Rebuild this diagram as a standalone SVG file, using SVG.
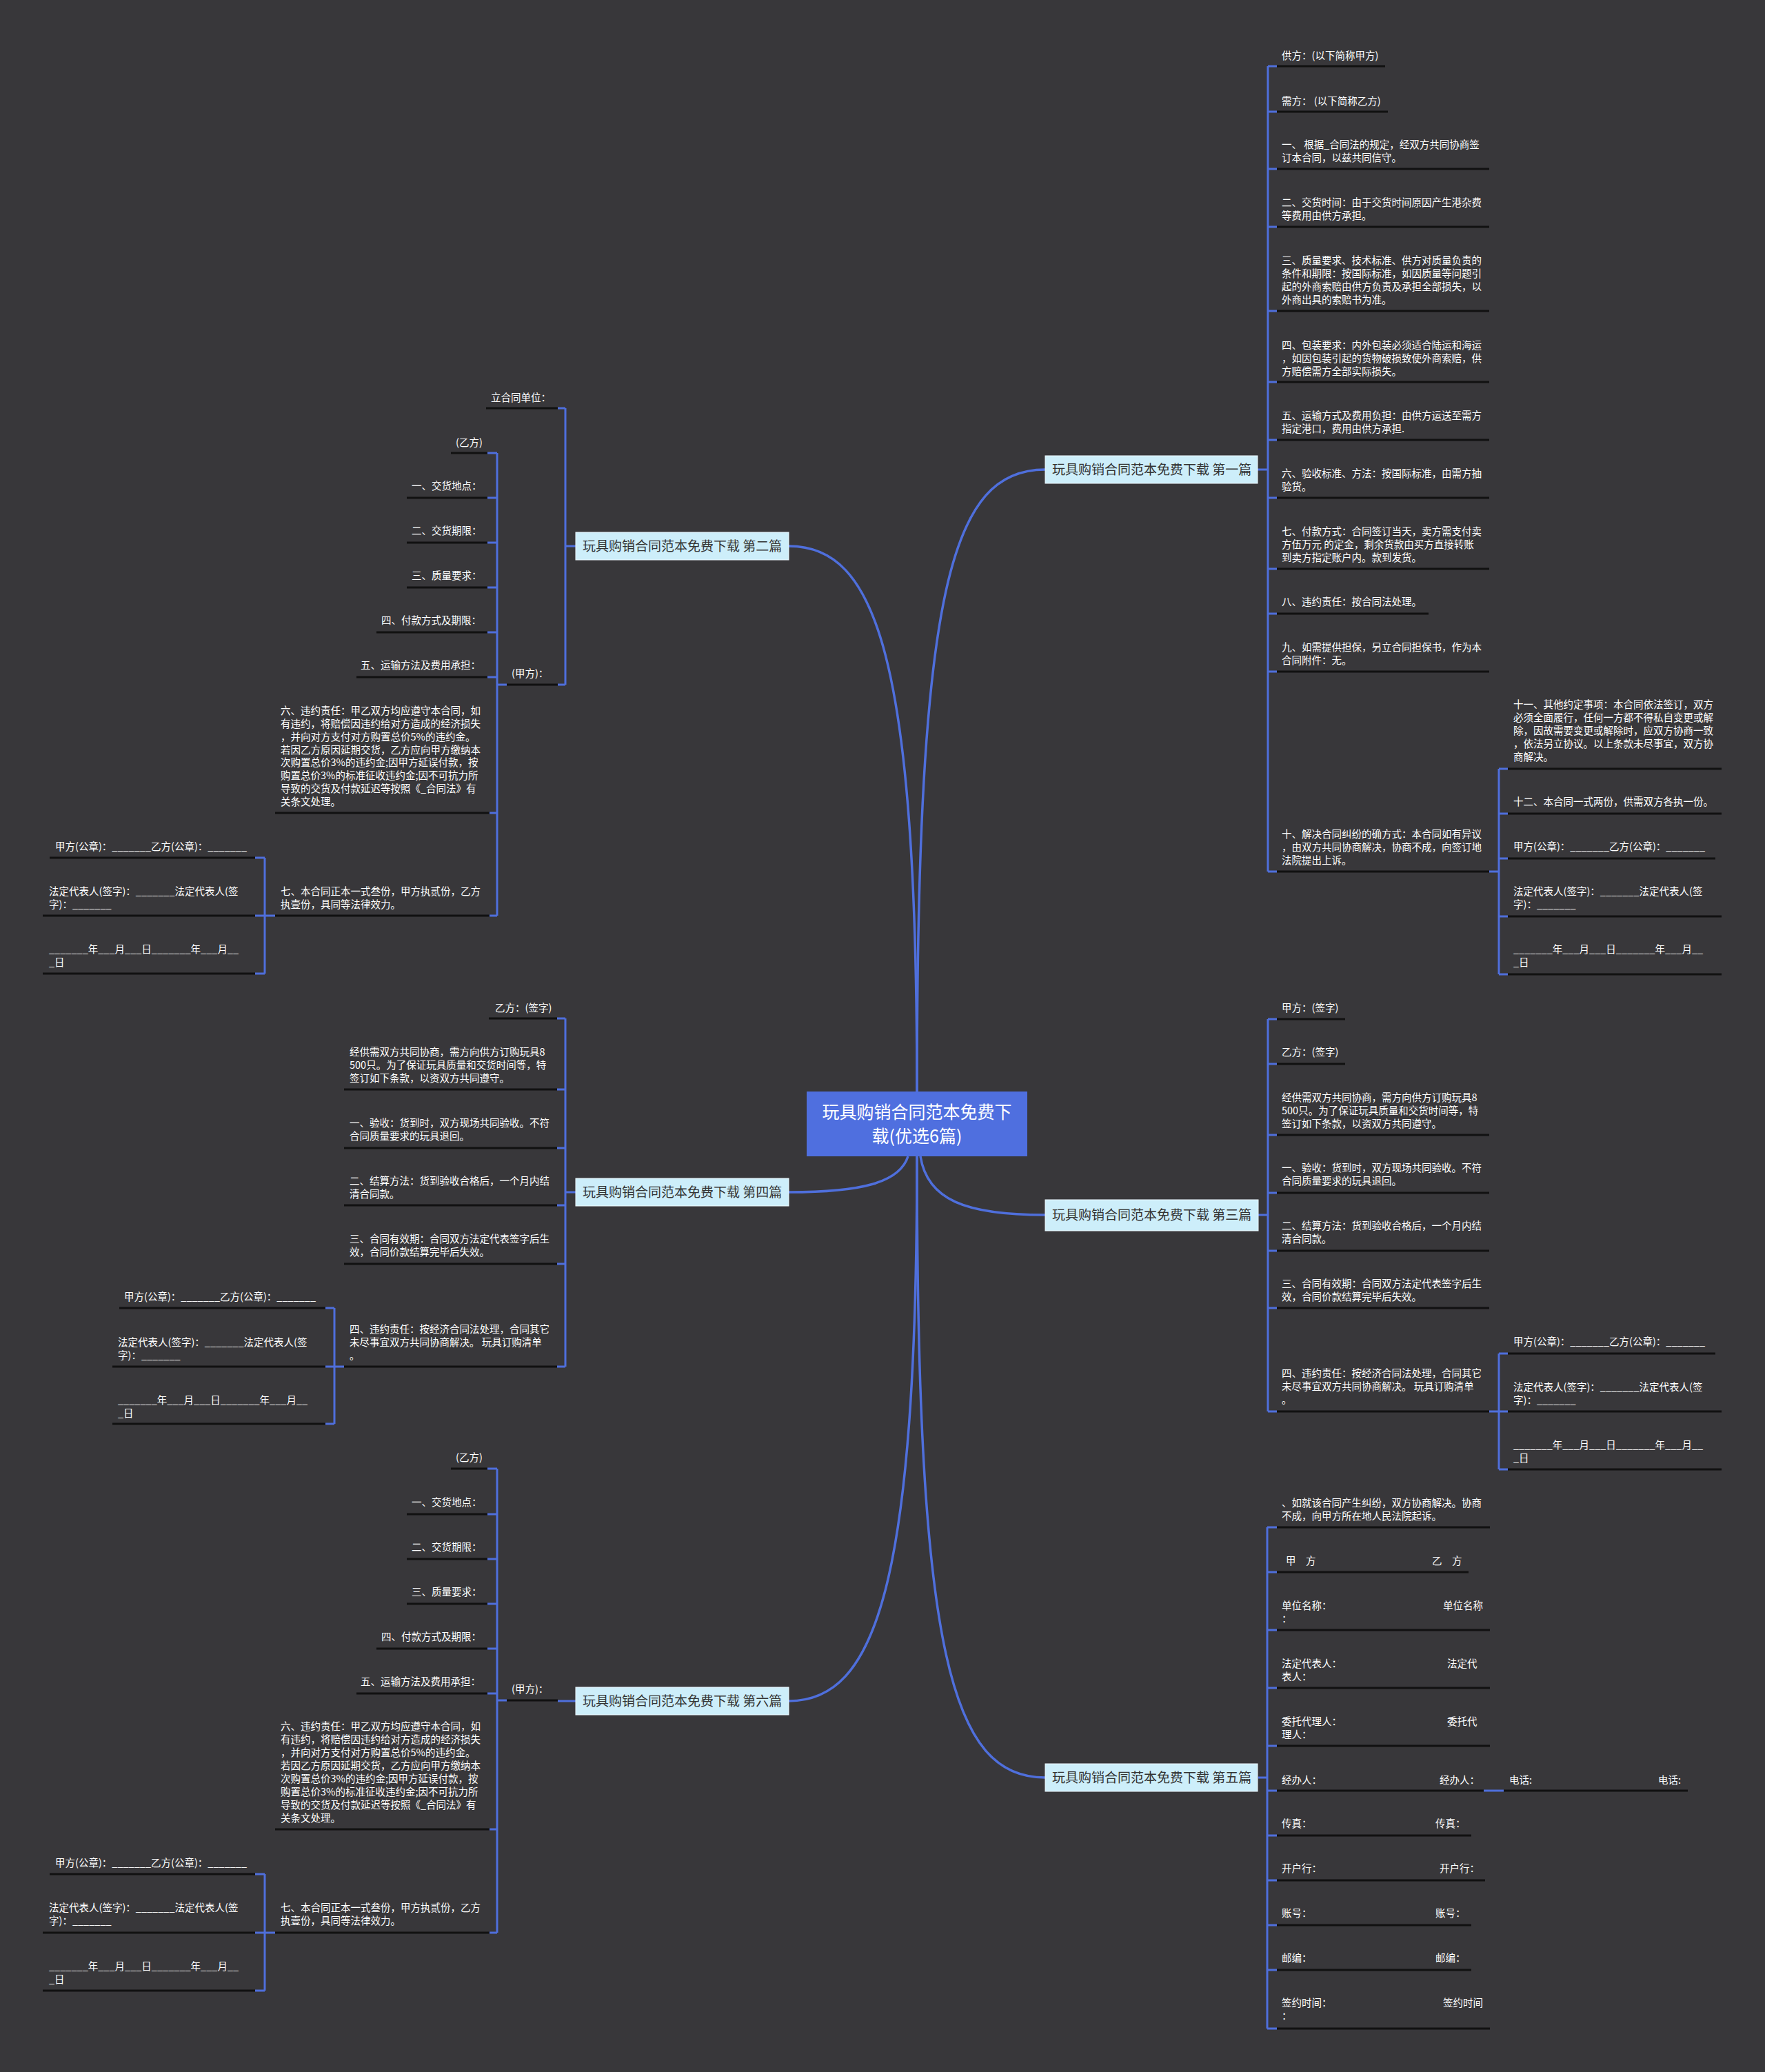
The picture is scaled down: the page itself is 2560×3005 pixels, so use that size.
<svg xmlns="http://www.w3.org/2000/svg" width="2560" height="3005" viewBox="0 0 2560 3005">
<style>
.t{fill:#ffffff;font-family:"Noto Sans CJK SC","Noto Sans",sans-serif;font-size:14.5px}
.u{stroke:#111111;stroke-width:3;fill:none}
.b{stroke:#4f6fdc;stroke-width:3;fill:none}
.c{stroke:#4f6fdc;stroke-width:3.5;fill:none}
.bn{fill:#cdeefa;stroke:#eefaff;stroke-width:1}
.bt{fill:#333333;font-family:"Noto Sans CJK SC","Noto Sans",sans-serif;font-size:19px}
.ct{fill:#ffffff;font-family:"Noto Sans CJK SC","Noto Sans",sans-serif;font-size:25px}
</style>
<rect x="0" y="0" width="2560" height="3005" fill="#38373a"/>

<g id="connectors">
<path class="c" d="M1330,1583 C1330,850 1380,681 1516,681"/>
<path class="c" d="M1330,1583 C1330,950 1270,792 1144,792"/>
<path class="c" d="M1335,1677 C1345,1740 1400,1762 1516,1762"/>
<path class="c" d="M1317,1677 C1305,1715 1250,1729 1144,1729"/>
<path class="c" d="M1330,1677 C1330,2400 1380,2578 1516,2578"/>
<path class="c" d="M1330,1677 C1330,2300 1270,2467 1144,2467"/>
<!-- branch 1 bracket -->
<path class="b" d="M1824,681 H1839 M1839,96 V1264 M1839,96 H1852 M1839,162 H1852 M1839,245 H1852 M1839,329 H1852 M1839,451 H1852 M1839,554 H1852 M1839,638 H1852 M1839,722 H1852 M1839,825 H1852 M1839,890 H1852 M1839,974 H1852 M1839,1264 H1852"/>
<path class="b" d="M2160,1264 H2174 M2174,1115 V1413 M2174,1115 H2187 M2174,1180 H2187 M2174,1245 H2187 M2174,1329 H2187 M2174,1413 H2187"/>
<!-- branch 2 bracket -->
<path class="b" d="M835,792 H820 M820,592 V993 M820,592 H809 M820,993 H809"/>
<path class="b" d="M735,993 H721 M721,657 V1328 M721,657 H707 M721,722 H707 M721,787 H707 M721,852 H707 M721,917 H707 M721,982 H707 M721,1179 H710 M721,1328 H710"/>
<path class="b" d="M399,1328 H384 M384,1244 V1412 M384,1244 H370 M384,1328 H370 M384,1412 H370"/>
<!-- branch 3 bracket -->
<path class="b" d="M1825,1762 H1839 M1839,1478 V2047 M1839,1478 H1852 M1839,1543 H1852 M1839,1646 H1852 M1839,1730 H1852 M1839,1814 H1852 M1839,1897 H1852 M1839,2047 H1852"/>
<path class="b" d="M2160,2047 H2174 M2174,1963 V2131 M2174,1963 H2187 M2174,2047 H2187 M2174,2131 H2187"/>
<!-- branch 4 bracket -->
<path class="b" d="M835,1729 H820 M820,1477 V1982 M820,1477 H808 M820,1580 H808 M820,1665 H808 M820,1748 H808 M820,1833 H808 M820,1982 H808"/>
<path class="b" d="M499,1982 H485 M485,1897 V2065 M485,1897 H472 M485,1982 H472 M485,2065 H472"/>
<!-- branch 5 bracket -->
<path class="b" d="M1825,2578 H1838 M1838,2215 V2942 M1838,2215 H1852 M1838,2280 H1852 M1838,2364 H1852 M1838,2448 H1852 M1838,2532 H1852 M1838,2597 H1852 M1838,2662 H1852 M1838,2727 H1852 M1838,2792 H1852 M1838,2857 H1852 M1838,2942 H1852"/>
<path class="b" d="M2152,2597 H2181"/>
<!-- branch 6 bracket -->
<path class="b" d="M835,2467 H809"/>
<path class="b" d="M735,2466 H721 M721,2130 V2803 M721,2130 H707 M721,2196 H707 M721,2261 H707 M721,2326 H707 M721,2391 H707 M721,2456 H707 M721,2653 H710 M721,2803 H710"/>
<path class="b" d="M399,2803 H384 M384,2718 V2887 M384,2718 H370 M384,2803 H370 M384,2887 H370"/>
</g>

<g id="center">
<rect x="1170" y="1583" width="320" height="94" fill="#4f6fdf"/>
<text class="ct" text-anchor="middle"><tspan x="1330" y="1622">玩具购销合同范本免费下</tspan><tspan x="1330" y="1657">载(优选6篇)</tspan></text>
</g>

<g id="branch1"><rect class="bn" x="1516" y="661" width="308" height="40"/><text class="bt" x="1526" y="688">玩具购销合同范本免费下载 第一篇</text></g>
<g id="branch2"><rect class="bn" x="835" y="772" width="309" height="40"/><text class="bt" x="845" y="799">玩具购销合同范本免费下载 第二篇</text></g>
<g id="branch3"><rect class="bn" x="1516" y="1740" width="309" height="45"/><text class="bt" x="1526" y="1769">玩具购销合同范本免费下载 第三篇</text></g>
<g id="branch4"><rect class="bn" x="835" y="1709" width="309" height="40"/><text class="bt" x="845" y="1736">玩具购销合同范本免费下载 第四篇</text></g>
<g id="branch5"><rect class="bn" x="1516" y="2558" width="308" height="40"/><text class="bt" x="1526" y="2585">玩具购销合同范本免费下载 第五篇</text></g>
<g id="branch6"><rect class="bn" x="835" y="2447" width="309" height="40"/><text class="bt" x="845" y="2474">玩具购销合同范本免费下载 第六篇</text></g>

<!-- Branch 1 leaves -->
<g id="n1-1"><text class="t" x="1859" y="86">供方：(以下简称甲方)</text><line class="u" x1="1852" y1="96" x2="2009" y2="96"/></g>
<g id="n1-2"><text class="t" x="1859" y="152">需方： (以下简称乙方)</text><line class="u" x1="1852" y1="162" x2="2013" y2="162"/></g>
<g id="n1-3"><text class="t"><tspan x="1859" y="215">一、 根据_合同法的规定，经双方共同协商签</tspan><tspan x="1859" y="234">订本合同，以兹共同信守。</tspan></text><line class="u" x1="1852" y1="245" x2="2160" y2="245"/></g>
<g id="n1-4"><text class="t"><tspan x="1859" y="299">二、交货时间：由于交货时间原因产生港杂费</tspan><tspan x="1859" y="318">等费用由供方承担。</tspan></text><line class="u" x1="1852" y1="329" x2="2160" y2="329"/></g>
<g id="n1-5"><text class="t"><tspan x="1859" y="383">三、质量要求、技术标准、供方对质量负责的</tspan><tspan x="1859" y="402">条件和期限：按国际标准，如因质量等问题引</tspan><tspan x="1859" y="421">起的外商索赔由供方负责及承担全部损失，以</tspan><tspan x="1859" y="440">外商出具的索赔书为准。</tspan></text><line class="u" x1="1852" y1="451" x2="2160" y2="451"/></g>
<g id="n1-6"><text class="t"><tspan x="1859" y="506">四、包装要求：内外包装必须适合陆运和海运</tspan><tspan x="1859" y="525">，如因包装引起的货物破损致使外商索赔，供</tspan><tspan x="1859" y="544">方赔偿需方全部实际损失。</tspan></text><line class="u" x1="1852" y1="554" x2="2160" y2="554"/></g>
<g id="n1-7"><text class="t"><tspan x="1859" y="608">五、运输方式及费用负担：由供方运送至需方</tspan><tspan x="1859" y="627">指定港口，费用由供方承担.</tspan></text><line class="u" x1="1852" y1="638" x2="2160" y2="638"/></g>
<g id="n1-8"><text class="t"><tspan x="1859" y="692">六、验收标准、方法：按国际标准，由需方抽</tspan><tspan x="1859" y="711">验货。</tspan></text><line class="u" x1="1852" y1="722" x2="2160" y2="722"/></g>
<g id="n1-9"><text class="t"><tspan x="1859" y="776">七、付款方式：合同签订当天，卖方需支付卖</tspan><tspan x="1859" y="795">方伍万元 的定金，剩余货款由买方直接转账</tspan><tspan x="1859" y="814">到卖方指定账户内。款到发货。</tspan></text><line class="u" x1="1852" y1="825" x2="2160" y2="825"/></g>
<g id="n1-10"><text class="t" x="1859" y="878">八、违约责任：按合同法处理。</text><line class="u" x1="1852" y1="890" x2="2072" y2="890"/></g>
<g id="n1-11"><text class="t"><tspan x="1859" y="944">九、如需提供担保，另立合同担保书，作为本</tspan><tspan x="1859" y="963">合同附件：无。</tspan></text><line class="u" x1="1852" y1="974" x2="2160" y2="974"/></g>
<g id="n1-12"><text class="t"><tspan x="1859" y="1215">十、解决合同纠纷的确方式：本合同如有异议</tspan><tspan x="1859" y="1234">，由双方共同协商解决，协商不成，向签订地</tspan><tspan x="1859" y="1253">法院提出上诉。</tspan></text><line class="u" x1="1852" y1="1264" x2="2160" y2="1264"/></g>
<g id="n1-13"><text class="t"><tspan x="2195" y="1027">十一、其他约定事项：本合同依法签订，双方</tspan><tspan x="2195" y="1046">必须全面履行，任何一方都不得私自变更或解</tspan><tspan x="2195" y="1065">除，因故需要变更或解除时，应双方协商一致</tspan><tspan x="2195" y="1084">，依法另立协议。以上条款未尽事宜，双方协</tspan><tspan x="2195" y="1103">商解决。</tspan></text><line class="u" x1="2187" y1="1115" x2="2497" y2="1115"/></g>
<g id="n1-14"><text class="t" x="2195" y="1168">十二、本合同一式两份，供需双方各执一份。</text><line class="u" x1="2187" y1="1180" x2="2497" y2="1180"/></g>
<g id="n1-15"><text class="t" x="2195" y="1233">甲方(公章)：_______乙方(公章)：_______</text><line class="u" x1="2187" y1="1245" x2="2488" y2="1245"/></g>
<g id="n1-16"><text class="t"><tspan x="2195" y="1298">法定代表人(签字)：_______法定代表人(签</tspan><tspan x="2195" y="1317">字)：_______</tspan></text><line class="u" x1="2187" y1="1329" x2="2497" y2="1329"/></g>
<g id="n1-17"><text class="t"><tspan x="2195" y="1382">_______年___月___日_______年___月__</tspan><tspan x="2195" y="1401">_日</tspan></text><line class="u" x1="2187" y1="1413" x2="2497" y2="1413"/></g>

<!-- Branch 2 leaves -->
<g id="n2-1"><text class="t" x="712" y="582">立合同单位：</text><line class="u" x1="705" y1="592" x2="809" y2="592"/></g>
<g id="n2-2"><text class="t" x="742" y="982">(甲方)：</text><line class="u" x1="735" y1="993" x2="809" y2="993"/></g>
<g id="n2-3"><text class="t" x="661" y="647">(乙方)</text><line class="u" x1="654" y1="657" x2="707" y2="657"/></g>
<g id="n2-4"><text class="t" x="597" y="710">一、交货地点：</text><line class="u" x1="590" y1="722" x2="707" y2="722"/></g>
<g id="n2-5"><text class="t" x="597" y="775">二、交货期限：</text><line class="u" x1="590" y1="787" x2="707" y2="787"/></g>
<g id="n2-6"><text class="t" x="597" y="840">三、质量要求：</text><line class="u" x1="590" y1="852" x2="707" y2="852"/></g>
<g id="n2-7"><text class="t" x="553" y="905">四、付款方式及期限：</text><line class="u" x1="546" y1="917" x2="707" y2="917"/></g>
<g id="n2-8"><text class="t" x="523" y="970">五、运输方法及费用承担：</text><line class="u" x1="517" y1="982" x2="707" y2="982"/></g>
<g id="n2-9"><text class="t"><tspan x="407" y="1036">六、违约责任：甲乙双方均应遵守本合同，如</tspan><tspan x="407" y="1055">有违约，将赔偿因违约给对方造成的经济损失</tspan><tspan x="407" y="1074">，并向对方支付对方购置总价5%的违约金。</tspan><tspan x="407" y="1093">若因乙方原因延期交货，乙方应向甲方缴纳本</tspan><tspan x="407" y="1111">次购置总价3%的违约金;因甲方延误付款，按</tspan><tspan x="407" y="1130">购置总价3%的标准征收违约金;因不可抗力所</tspan><tspan x="407" y="1149">导致的交货及付款延迟等按照《_合同法》有</tspan><tspan x="407" y="1168">关条文处理。</tspan></text><line class="u" x1="399" y1="1179" x2="710" y2="1179"/></g>
<g id="n2-10"><text class="t"><tspan x="407" y="1298">七、本合同正本一式叁份，甲方执贰份，乙方</tspan><tspan x="407" y="1317">执壹份，具同等法律效力。</tspan></text><line class="u" x1="399" y1="1328" x2="710" y2="1328"/></g>
<g id="n2-11"><text class="t" x="80" y="1233">甲方(公章)：_______乙方(公章)：_______</text><line class="u" x1="72" y1="1244" x2="370" y2="1244"/></g>
<g id="n2-12"><text class="t"><tspan x="71" y="1298">法定代表人(签字)：_______法定代表人(签</tspan><tspan x="71" y="1317">字)：_______</tspan></text><line class="u" x1="62" y1="1328" x2="370" y2="1328"/></g>
<g id="n2-13"><text class="t"><tspan x="71" y="1382">_______年___月___日_______年___月__</tspan><tspan x="71" y="1401">_日</tspan></text><line class="u" x1="62" y1="1412" x2="370" y2="1412"/></g>

<!-- Branch 3 leaves -->
<g id="n3-1"><text class="t" x="1859" y="1467">甲方：(签字)</text><line class="u" x1="1852" y1="1478" x2="1951" y2="1478"/></g>
<g id="n3-2"><text class="t" x="1859" y="1531">乙方：(签字)</text><line class="u" x1="1852" y1="1543" x2="1951" y2="1543"/></g>
<g id="n3-3"><text class="t"><tspan x="1859" y="1597">经供需双方共同协商，需方向供方订购玩具8</tspan><tspan x="1859" y="1616">500只。为了保证玩具质量和交货时间等，特</tspan><tspan x="1859" y="1635">签订如下条款，以资双方共同遵守。</tspan></text><line class="u" x1="1852" y1="1646" x2="2160" y2="1646"/></g>
<g id="n3-4"><text class="t"><tspan x="1859" y="1699">一、验收：货到时，双方现场共同验收。不符</tspan><tspan x="1859" y="1718">合同质量要求的玩具退回。</tspan></text><line class="u" x1="1852" y1="1730" x2="2160" y2="1730"/></g>
<g id="n3-5"><text class="t"><tspan x="1859" y="1783">二、结算方法：货到验收合格后，一个月内结</tspan><tspan x="1859" y="1802">清合同款。</tspan></text><line class="u" x1="1852" y1="1814" x2="2160" y2="1814"/></g>
<g id="n3-6"><text class="t"><tspan x="1859" y="1867">三、合同有效期：合同双方法定代表签字后生</tspan><tspan x="1859" y="1886">效，合同价款结算完毕后失效。</tspan></text><line class="u" x1="1852" y1="1897" x2="2160" y2="1897"/></g>
<g id="n3-7"><text class="t"><tspan x="1859" y="1997">四、违约责任：按经济合同法处理，合同其它</tspan><tspan x="1859" y="2016">未尽事宜双方共同协商解决。 玩具订购清单</tspan><tspan x="1859" y="2035">。</tspan></text><line class="u" x1="1852" y1="2047" x2="2160" y2="2047"/></g>
<g id="n3-8"><text class="t" x="2195" y="1951">甲方(公章)：_______乙方(公章)：_______</text><line class="u" x1="2187" y1="1963" x2="2488" y2="1963"/></g>
<g id="n3-9"><text class="t"><tspan x="2195" y="2017">法定代表人(签字)：_______法定代表人(签</tspan><tspan x="2195" y="2036">字)：_______</tspan></text><line class="u" x1="2187" y1="2047" x2="2497" y2="2047"/></g>
<g id="n3-10"><text class="t"><tspan x="2195" y="2101">_______年___月___日_______年___月__</tspan><tspan x="2195" y="2120">_日</tspan></text><line class="u" x1="2187" y1="2131" x2="2497" y2="2131"/></g>

<!-- Branch 4 leaves -->
<g id="n4-1"><text class="t" x="718" y="1467">乙方：(签字)</text><line class="u" x1="709" y1="1477" x2="808" y2="1477"/></g>
<g id="n4-2"><text class="t"><tspan x="507" y="1531">经供需双方共同协商，需方向供方订购玩具8</tspan><tspan x="507" y="1550">500只。为了保证玩具质量和交货时间等，特</tspan><tspan x="507" y="1569">签订如下条款，以资双方共同遵守。</tspan></text><line class="u" x1="499" y1="1580" x2="808" y2="1580"/></g>
<g id="n4-3"><text class="t"><tspan x="507" y="1634">一、验收：货到时，双方现场共同验收。不符</tspan><tspan x="507" y="1653">合同质量要求的玩具退回。</tspan></text><line class="u" x1="499" y1="1665" x2="808" y2="1665"/></g>
<g id="n4-4"><text class="t"><tspan x="507" y="1718">二、结算方法：货到验收合格后，一个月内结</tspan><tspan x="507" y="1737">清合同款。</tspan></text><line class="u" x1="499" y1="1748" x2="808" y2="1748"/></g>
<g id="n4-5"><text class="t"><tspan x="507" y="1802">三、合同有效期：合同双方法定代表签字后生</tspan><tspan x="507" y="1821">效，合同价款结算完毕后失效。</tspan></text><line class="u" x1="499" y1="1833" x2="808" y2="1833"/></g>
<g id="n4-6"><text class="t"><tspan x="507" y="1933">四、违约责任：按经济合同法处理，合同其它</tspan><tspan x="507" y="1952">未尽事宜双方共同协商解决。 玩具订购清单</tspan><tspan x="507" y="1971">。</tspan></text><line class="u" x1="499" y1="1982" x2="808" y2="1982"/></g>
<g id="n4-7"><text class="t" x="180" y="1886">甲方(公章)：_______乙方(公章)：_______</text><line class="u" x1="173" y1="1897" x2="472" y2="1897"/></g>
<g id="n4-8"><text class="t"><tspan x="171" y="1952">法定代表人(签字)：_______法定代表人(签</tspan><tspan x="171" y="1971">字)：_______</tspan></text><line class="u" x1="163" y1="1982" x2="472" y2="1982"/></g>
<g id="n4-9"><text class="t"><tspan x="171" y="2036">_______年___月___日_______年___月__</tspan><tspan x="171" y="2055">_日</tspan></text><line class="u" x1="163" y1="2065" x2="472" y2="2065"/></g>

<!-- Branch 5 leaves -->
<g id="n5-1"><text class="t"><tspan x="1859" y="2185">、如就该合同产生纠纷，双方协商解决。协商</tspan><tspan x="1859" y="2204">不成，向甲方所在地人民法院起诉。</tspan></text><line class="u" x1="1852" y1="2215" x2="2161" y2="2215"/></g>
<g id="n5-2"><text class="t"><tspan x="1865" y="2269">甲　方</tspan><tspan x="2077" y="2269">乙　方</tspan></text><line class="u" x1="1852" y1="2280" x2="2130" y2="2280"/></g>
<g id="n5-3"><text class="t"><tspan x="1859" y="2334">单位名称：</tspan><tspan x="2093" y="2334">单位名称</tspan><tspan x="1859" y="2353">：</tspan></text><line class="u" x1="1852" y1="2364" x2="2161" y2="2364"/></g>
<g id="n5-4"><text class="t"><tspan x="1859" y="2418">法定代表人：</tspan><tspan x="2099" y="2418">法定代</tspan><tspan x="1859" y="2437">表人：</tspan></text><line class="u" x1="1852" y1="2448" x2="2161" y2="2448"/></g>
<g id="n5-5"><text class="t"><tspan x="1859" y="2502">委托代理人：</tspan><tspan x="2099" y="2502">委托代</tspan><tspan x="1859" y="2521">理人：</tspan></text><line class="u" x1="1852" y1="2532" x2="2161" y2="2532"/></g>
<g id="n5-6"><text class="t"><tspan x="1859" y="2587">经办人：</tspan><tspan x="2088" y="2587">经办人：</tspan></text><line class="u" x1="1852" y1="2597" x2="2152" y2="2597"/></g>
<g id="n5-7"><text class="t"><tspan x="2189" y="2587">电话:</tspan><tspan x="2405" y="2587">电话:</tspan></text><line class="u" x1="2181" y1="2597" x2="2448" y2="2597"/></g>
<g id="n5-8"><text class="t"><tspan x="1859" y="2650">传真：</tspan><tspan x="2082" y="2650">传真：</tspan></text><line class="u" x1="1852" y1="2662" x2="2134" y2="2662"/></g>
<g id="n5-9"><text class="t"><tspan x="1859" y="2715">开户行：</tspan><tspan x="2088" y="2715">开户行：</tspan></text><line class="u" x1="1852" y1="2727" x2="2154" y2="2727"/></g>
<g id="n5-10"><text class="t"><tspan x="1859" y="2780">账号：</tspan><tspan x="2082" y="2780">账号：</tspan></text><line class="u" x1="1852" y1="2792" x2="2134" y2="2792"/></g>
<g id="n5-11"><text class="t"><tspan x="1859" y="2845">邮编：</tspan><tspan x="2082" y="2845">邮编：</tspan></text><line class="u" x1="1852" y1="2857" x2="2134" y2="2857"/></g>
<g id="n5-12"><text class="t"><tspan x="1859" y="2910">签约时间：</tspan><tspan x="2093" y="2910">签约时间</tspan><tspan x="1859" y="2929">：</tspan></text><line class="u" x1="1852" y1="2942" x2="2161" y2="2942"/></g>

<!-- Branch 6 leaves -->
<g id="n6-1"><text class="t" x="742" y="2455">(甲方)：</text><line class="u" x1="735" y1="2466" x2="809" y2="2466"/></g>
<g id="n6-2"><text class="t" x="661" y="2119">(乙方)</text><line class="u" x1="654" y1="2130" x2="707" y2="2130"/></g>
<g id="n6-3"><text class="t" x="597" y="2184">一、交货地点：</text><line class="u" x1="590" y1="2196" x2="707" y2="2196"/></g>
<g id="n6-4"><text class="t" x="597" y="2249">二、交货期限：</text><line class="u" x1="590" y1="2261" x2="707" y2="2261"/></g>
<g id="n6-5"><text class="t" x="597" y="2314">三、质量要求：</text><line class="u" x1="590" y1="2326" x2="707" y2="2326"/></g>
<g id="n6-6"><text class="t" x="553" y="2379">四、付款方式及期限：</text><line class="u" x1="546" y1="2391" x2="707" y2="2391"/></g>
<g id="n6-7"><text class="t" x="523" y="2444">五、运输方法及费用承担：</text><line class="u" x1="517" y1="2456" x2="707" y2="2456"/></g>
<g id="n6-8"><text class="t"><tspan x="407" y="2509">六、违约责任：甲乙双方均应遵守本合同，如</tspan><tspan x="407" y="2528">有违约，将赔偿因违约给对方造成的经济损失</tspan><tspan x="407" y="2547">，并向对方支付对方购置总价5%的违约金。</tspan><tspan x="407" y="2566">若因乙方原因延期交货，乙方应向甲方缴纳本</tspan><tspan x="407" y="2585">次购置总价3%的违约金;因甲方延误付款，按</tspan><tspan x="407" y="2604">购置总价3%的标准征收违约金;因不可抗力所</tspan><tspan x="407" y="2623">导致的交货及付款延迟等按照《_合同法》有</tspan><tspan x="407" y="2642">关条文处理。</tspan></text><line class="u" x1="399" y1="2653" x2="710" y2="2653"/></g>
<g id="n6-9"><text class="t"><tspan x="407" y="2772">七、本合同正本一式叁份，甲方执贰份，乙方</tspan><tspan x="407" y="2791">执壹份，具同等法律效力。</tspan></text><line class="u" x1="399" y1="2803" x2="710" y2="2803"/></g>
<g id="n6-10"><text class="t" x="80" y="2707">甲方(公章)：_______乙方(公章)：_______</text><line class="u" x1="72" y1="2718" x2="370" y2="2718"/></g>
<g id="n6-11"><text class="t"><tspan x="71" y="2772">法定代表人(签字)：_______法定代表人(签</tspan><tspan x="71" y="2791">字)：_______</tspan></text><line class="u" x1="62" y1="2803" x2="370" y2="2803"/></g>
<g id="n6-12"><text class="t"><tspan x="71" y="2857">_______年___月___日_______年___月__</tspan><tspan x="71" y="2876">_日</tspan></text><line class="u" x1="62" y1="2887" x2="370" y2="2887"/></g>
</svg>
